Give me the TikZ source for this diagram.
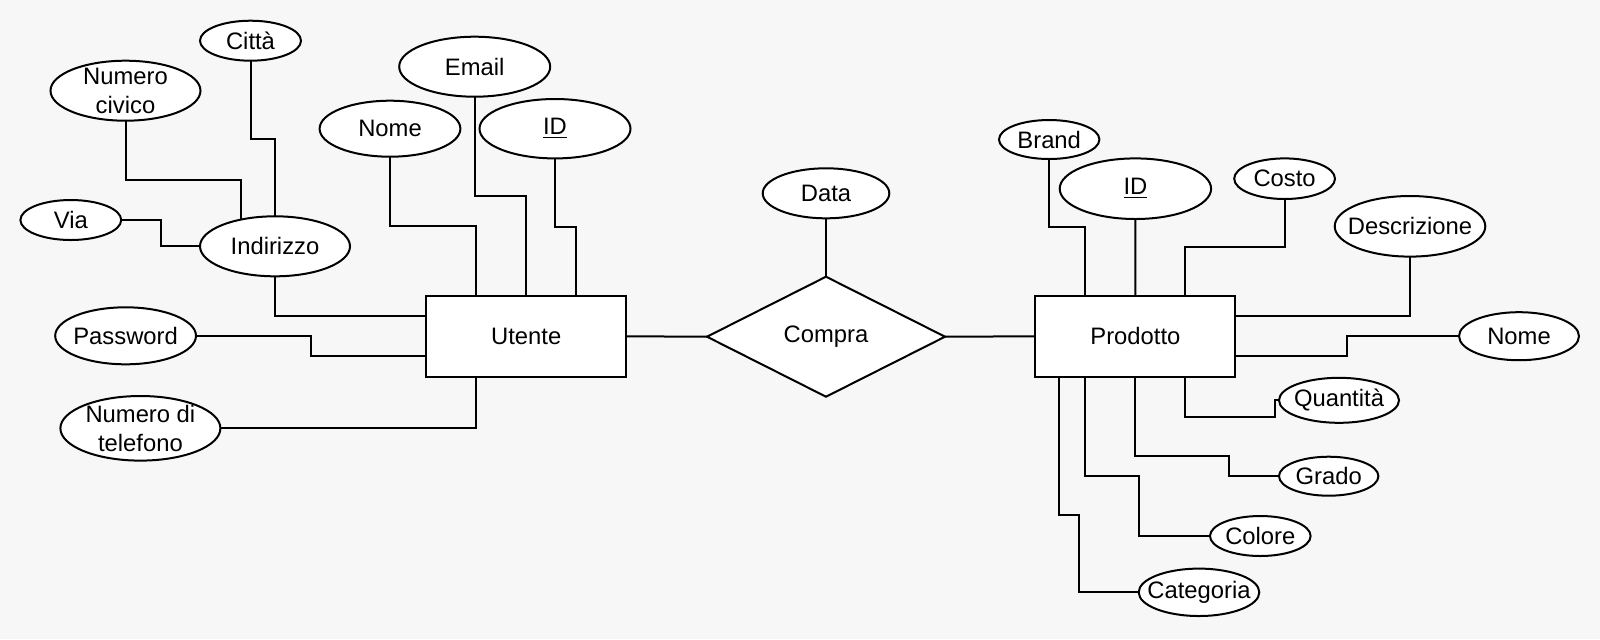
\documentclass[tikz,border=0pt]{standalone}
\usepackage{fontspec}
\setmainfont{Liberation Sans}
\usetikzlibrary{shapes.geometric,calc}
\definecolor{bgc}{RGB}{247,247,247}
\newcommand{\erfont}{\fontsize{11.9}{14.5}\selectfont}
\newcommand{\erattr}[5]{\node[attr,minimum width=#3pt,minimum height=#4pt,label={[lbl]center:#5}] (#1) at (#2) {};}
\begin{document}
\begin{tikzpicture}[x=0.5pt,y=-0.5pt,line width=1pt,
  attr/.style={ellipse,draw,fill=white,inner sep=0pt,outer sep=0pt},
  lbl/.style={align=center,font=\erfont,inner sep=0pt},
  ent/.style={rectangle,draw,fill=white,minimum width=100pt,minimum height=40.35pt,inner sep=0pt,outer sep=0pt,font=\erfont},
  rel/.style={diamond,draw,fill=white,minimum width=119pt,minimum height=60pt,inner sep=0pt,outer sep=0pt,font=\erfont}]
\fill[bgc] (0,0) rectangle (1600,639);
\useasboundingbox (0,0) rectangle (1600,639);

% entities and relation
\node[ent] (utente) at (526.2,336.3) {Utente};
\node[ent] (prodotto) at (1135.4,336.3) {Prodotto};
\node[rel] (compra) at (826,336.7) {Compra};

% attributes of Utente
\erattr{citta}{250.5,40.7}{50.5}{20}{Città}
\erattr{numciv}{125.5,90.7}{75}{30}{Numero\\civico}
\erattr{email}{474.7,66.7}{75.5}{30}{Email}
\erattr{nomeU}{390,128.7}{70.4}{28}{Nome}
\erattr{idU}{555,128.7}{75.5}{29.7}{\underline{ID}}
\erattr{via}{70.8,220}{50.4}{20}{Via}
\erattr{indirizzo}{275,246.3}{75}{30}{Indirizzo}
\erattr{password}{125.6,335.8}{70.4}{28.5}{Password}
\erattr{telefono}{140.4,428.3}{80}{32.3}{Numero di\\telefono}

% attribute of Compra
\erattr{data}{826,193.3}{63.3}{25}{Data}

% attributes of Prodotto
\erattr{brand}{1049.2,139.5}{50.2}{19.5}{Brand}
\erattr{idP}{1135.4,188.7}{75.7}{30.3}{\underline{ID}}
\erattr{costo}{1284.6,178.7}{50.4}{20.3}{Costo}
\erattr{descr}{1410,226.3}{75.3}{30.3}{Descrizione}
\erattr{nomeP}{1519,336.2}{60}{24}{Nome}
\erattr{quant}{1339,400.3}{60}{22.5}{Quantità}
\erattr{grado}{1328.7,476.2}{49.7}{19.5}{Grado}
\erattr{colore}{1260.3,536}{50.3}{20}{Colore}
\erattr{categoria}{1199,592.3}{60.3}{23.7}{Categoria}

% connection points on Utente
\coordinate (uT1) at ($(utente.north west)!0.25!(utente.north east)$);
\coordinate (uT2) at ($(utente.north west)!0.5!(utente.north east)$);
\coordinate (uT3) at ($(utente.north west)!0.75!(utente.north east)$);
\coordinate (uL1) at ($(utente.north west)!0.25!(utente.south west)$);
\coordinate (uL3) at ($(utente.north west)!0.75!(utente.south west)$);
\coordinate (uB1) at ($(utente.south west)!0.25!(utente.south east)$);
% connection points on Prodotto
\coordinate (pT1) at ($(prodotto.north west)!0.25!(prodotto.north east)$);
\coordinate (pT2) at ($(prodotto.north west)!0.5!(prodotto.north east)$);
\coordinate (pT3) at ($(prodotto.north west)!0.75!(prodotto.north east)$);
\coordinate (pR1) at ($(prodotto.north east)!0.25!(prodotto.south east)$);
\coordinate (pR3) at ($(prodotto.north east)!0.75!(prodotto.south east)$);
\coordinate (pB0) at ($(prodotto.south west)!0.12!(prodotto.south east)$);
\coordinate (pB1) at ($(prodotto.south west)!0.25!(prodotto.south east)$);
\coordinate (pB2) at ($(prodotto.south west)!0.5!(prodotto.south east)$);
\coordinate (pB3) at ($(prodotto.south west)!0.75!(prodotto.south east)$);

% connectors, Utente side
\draw (citta.south) |- ($(citta.south)!0.5!(indirizzo.north)$) -| (indirizzo.north);
\draw (numciv.south) -- (125.5,180.3) -| (indirizzo.142);
\draw (via.east) -| ($(via.east)!0.5!(indirizzo.west)$) |- (indirizzo.west);
\draw (indirizzo.south) |- (uL1);
\draw (nomeU.south) |- ($(nomeU.south)!0.5!(uT1)$) -| (uT1);
\draw (email.south) |- ($(email.south)!0.5!(uT2)$) -| (uT2);
\draw (idU.south) |- ($(idU.south)!0.5!(uT3)$) -| (uT3);
\draw (password.east) -| ($(password.east)!0.5!(uL3)$) |- (uL3);
\draw (telefono.east) -| (uB1);

% connectors, relation
\draw (utente.east) -- (compra.west);
\draw (compra.east) -- (prodotto.west);
\draw (data.south) -- (compra.north);

% connectors, Prodotto side
\draw (brand.south) |- ($(brand.south)!0.5!(pT1)$) -| (pT1);
\draw (idP.south) -- (pT2);
\draw (costo.south) |- ($(costo.south)!0.5!(pT3)$) -| (pT3);
\draw (descr.south) |- (pR1);
\draw (nomeP.west) -| ($(nomeP.west)!0.5!(pR3)$) |- (pR3);
\draw (pB3) |- (1275,416.7) |- (quant.west);
\draw (pB2) |- (1229.3,456) |- (grado.west);
\draw (pB1) |- (1139.3,476) |- (colore.west);
\draw (pB0) |- (1079.3,515.3) |- (categoria.west);
\end{tikzpicture}
\end{document}
